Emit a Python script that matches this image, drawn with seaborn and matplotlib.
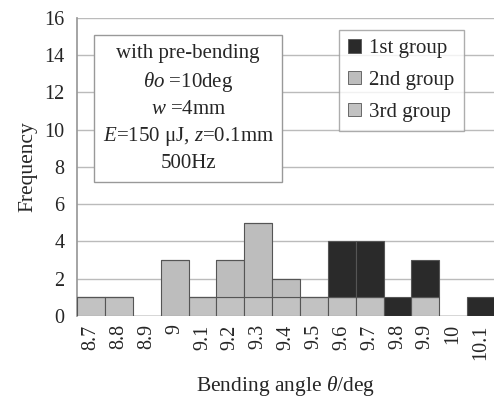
import numpy as np
import pandas as pd
import seaborn as sns
import matplotlib.pyplot as plt
from matplotlib.patches import Patch

angles = ["8.7", "8.8", "8.9", "9", "9.1", "9.2", "9.3", "9.4", "9.5", "9.6", "9.7", "9.8", "9.9", "10", "10.1"]
group1 = [0, 0, 0, 0, 0, 0, 0, 0, 0, 3, 3, 1, 2, 0, 1]
group2 = [0, 0, 0, 3, 0, 2, 4, 1, 0, 0, 0, 0, 0, 0, 0]
group3 = [1, 1, 0, 0, 1, 1, 1, 1, 1, 1, 1, 0, 1, 0, 0]
groups = ["1st group", "2nd group", "3rd group"]
colors = {"1st group": "#2a2a2a", "2nd group": "#bdbdbd", "3rd group": "#c2c2c2"}

sns.set_theme(style="white")
plt.rcParams['font.family'] = ['Liberation Serif', 'DejaVu Serif']
plt.rcParams['mathtext.fontset'] = 'custom'
plt.rcParams['mathtext.rm'] = 'Liberation Serif'
plt.rcParams['mathtext.it'] = 'Liberation Serif:italic'

rows = []
for g, vals in zip(groups, [group1, group2, group3]):
    for i, v in enumerate(vals):
        rows.append({"pos": i, "group": g, "count": v})
df = pd.DataFrame(rows)

fig = plt.figure(figsize=(4.94, 3.99), dpi=100)
ax = fig.add_axes([0.156, 0.208, 0.846, 0.747])
sns.histplot(data=df, x="pos", weights="count", hue="group", hue_order=groups,
             multiple="stack", discrete=True, shrink=1, palette=colors, alpha=1,
             edgecolor="#555555", linewidth=0.8, legend=False, ax=ax, zorder=3)

ax.set_xlim(-0.5, len(angles) - 0.5)
ax.set_ylim(0, 16)
ax.set_yticks(range(0, 17, 2))
ax.set_xticks(range(len(angles)))
ax.set_xticklabels(angles, rotation=90, fontsize=14.5)
ax.tick_params(axis="y", labelsize=14.5, length=0, pad=9)
ax.tick_params(axis="x", length=0, pad=6)
ax.grid(axis="y", color="#bbbbbb", linewidth=1, zorder=0)
for s in ["top", "right", "bottom"]:
    ax.spines[s].set_visible(False)
ax.spines["left"].set_color("#999999")
ax.set_xlabel(r"Bending angle $\theta$/deg", fontsize=15.5, labelpad=10)
ax.set_ylabel("Frequency", fontsize=15.5, labelpad=5)

txt = ("with pre-bending\n$\\theta o$ =10deg\n$w$ =4mm\n"
       "$E$=150 \u03bcJ, $z$=0.1mm\n500Hz")
ax.text(0.266, 0.696, txt, transform=ax.transAxes, ha="center", va="center",
        fontsize=15, linespacing=1.42, zorder=5,
        bbox=dict(boxstyle="square,pad=0.4", fc="white", ec="#999999", lw=1))

handles = [Patch(facecolor=colors[g], edgecolor="#555555", linewidth=0.6) for g in groups]
leg = ax.legend(handles, groups, loc="upper left", bbox_to_anchor=(0.627, 0.96),
                fontsize=15, frameon=True, fancybox=False, edgecolor="#999999",
                handlelength=0.6, handleheight=0.6, handletextpad=0.4,
                labelspacing=0.62, borderpad=0.45, borderaxespad=0)
leg.get_frame().set_linewidth(1)
leg.set_zorder(5)

fig.savefig("out.png", dpi=100)
